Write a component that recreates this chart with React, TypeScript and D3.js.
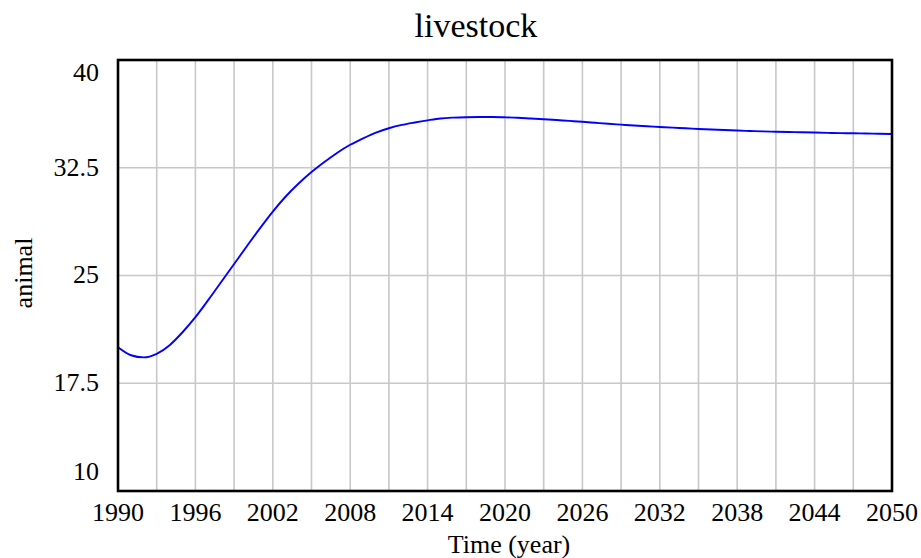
import React from "react";
import * as d3 from "d3";

const years: number[] = d3.range(1990, 2051);
const livestock: number[] = [
  20.0, 19.45, 19.3, 19.55, 20.15, 21.05, 22.1, 23.3, 24.55, 25.8,
  27.05, 28.28, 29.45, 30.5, 31.4, 32.2, 32.9, 33.55, 34.1, 34.55,
  34.95, 35.25, 35.48, 35.65, 35.8, 35.93, 35.99, 36.02, 36.03, 36.03,
  36.01, 35.98, 35.93, 35.88, 35.82, 35.76, 35.7, 35.63, 35.56, 35.5,
  35.44, 35.39, 35.34, 35.29, 35.25, 35.2, 35.16, 35.13, 35.09, 35.06,
  35.03, 35.01, 34.99, 34.97, 34.95, 34.93, 34.91, 34.9, 34.88, 34.87,
  34.85,
];
const xTickLabels: number[] = [1990, 1996, 2002, 2008, 2014, 2020, 2026, 2032, 2038, 2044, 2050];
const xGrid: number[] = d3.range(1993, 2050, 3);
const yTickLabels: number[] = [10, 17.5, 25, 32.5, 40];
const yGrid: number[] = [17.5, 25, 32.5];

const W = 921;
const H = 558;
const left = 118;
const right = 892;
const top = 60;
const bottom = 491;
const font = "'Liberation Serif', 'Times New Roman', serif";

export default function App() {
  const x = d3.scaleLinear().domain([1990, 2050]).range([left, right]);
  const y = d3.scaleLinear().domain([10, 40]).range([bottom, top]);
  const line = d3
    .line<number>()
    .x((_, i) => x(years[i]))
    .y((d) => y(d))
    .curve(d3.curveMonotoneX);

  const yLabelY = (v: number) => {
    if (v === 40) return y(v) + 15;
    if (v === 10) return y(v) - 17;
    return y(v) + 2;
  };

  return (
    <svg
      width={W}
      height={H}
      style={{ position: "absolute", left: 0, top: 0, background: "#fff" }}
    >
      <rect x={0} y={0} width={W} height={H} fill="#fff" />
      {xGrid.map((g) => (
        <line key={"xg" + g} x1={x(g)} x2={x(g)} y1={top} y2={bottom} stroke="#c8c8c8" strokeWidth={1.6} />
      ))}
      {yGrid.map((g) => (
        <line key={"yg" + g} x1={left} x2={right} y1={y(g)} y2={y(g)} stroke="#c8c8c8" strokeWidth={1.6} />
      ))}
      <path d={line(livestock) || ""} fill="none" stroke="#0000ff" strokeWidth={1.9} />
      <rect x={left} y={top} width={right - left} height={bottom - top} fill="none" stroke="#000" strokeWidth={2.6} />
      {xTickLabels.map((t) => (
        <text key={"xt" + t} x={x(t)} y={521} textAnchor="middle" fontFamily={font} fontSize={26} fill="#000">
          {t}
        </text>
      ))}
      {yTickLabels.map((t) => (
        <text
          key={"yt" + t}
          x={99}
          y={yLabelY(t)}
          textAnchor="end"
          dominantBaseline="middle"
          fontFamily={font}
          fontSize={26}
          fill="#000"
        >
          {t}
        </text>
      ))}
      <text x={476} y={37} textAnchor="middle" fontFamily={font} fontSize={34} fill="#000">
        livestock
      </text>
      <text x={509} y={553} textAnchor="middle" fontFamily={font} fontSize={26} fill="#000">
        Time (year)
      </text>
      <text
        transform={`translate(32, 273) rotate(-90)`}
        textAnchor="middle"
        fontFamily={font}
        fontSize={26}
        fill="#000"
      >
        animal
      </text>
    </svg>
  );
}
